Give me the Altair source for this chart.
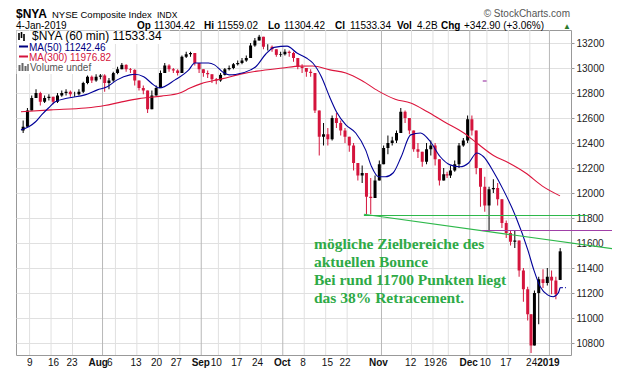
import altair as alt
import pandas as pd

# ---------------- data (daily OHLC) ----------------
closes = [12530, 12660, 12760, 12800, 12730, 12760, 12770, 12730, 12780, 12800,
          12810, 12790, 12790, 12810, 12880, 12930, 12900, 12930, 12940, 12880,
          12900, 12960, 12990, 13025, 12990, 12985, 12900, 12840, 12820, 12670,
          12780, 12840, 12960, 13020, 12990, 12980, 12960, 13090, 13110, 13120,
          13040, 12990, 12960, 12950, 12910, 12900, 12945, 12990, 13000, 13030,
          13040, 13060, 13080, 13180, 13220, 13250, 13170, 13170, 13150, 13105,
          13110, 13130, 13120, 13080, 13010, 13000, 12970, 12960, 12660, 12450,
          12470, 12430, 12600, 12560, 12500, 12450, 12380, 12240, 12140, 12160,
          11970, 11960, 12100, 12230, 12360, 12400, 12420, 12480, 12650, 12600,
          12500, 12350, 12330, 12250, 12350, 12380, 12270, 12100, 12150, 12140,
          12180, 12230, 12380, 12420, 12590, 12500, 12200, 12050, 11900, 12030,
          12040, 11950, 11760, 11680, 11610, 11620, 11380, 11230, 11030, 10780,
          11200, 11310, 11280, 11330, 11300, 11190.44, 11533.34]
highs = [12580, 12680, 12780, 12830, 12810, 12780, 12790, 12770, 12800, 12820,
         12830, 12820, 12810, 12830, 12890, 12940, 12940, 12950, 12960, 12950,
         12920, 12970, 13010, 13040, 13030, 13000, 12990, 12880, 12860, 12800,
         12820, 12860, 12980, 13040, 13030, 13000, 12990, 13100, 13130, 13130,
         13110, 13040, 12990, 12980, 12950, 12920, 12960, 13000, 13020, 13040,
         13060, 13080, 13100, 13200, 13240, 13265, 13250, 13190, 13180, 13140,
         13130, 13150, 13140, 13130, 13060, 13030, 13000, 12990, 12860, 12660,
         12560, 12520, 12620, 12640, 12580, 12520, 12450, 12400, 12240, 12220,
         12100, 12120, 12140, 12260, 12380, 12460, 12450, 12500, 12680, 12660,
         12590, 12480, 12400, 12330, 12400, 12420, 12400, 12270, 12200, 12170,
         12220, 12260, 12400, 12440, 12620, 12620, 12490, 12130, 12130, 12050,
         12110, 12080, 11950, 11780, 11700, 11700, 11620, 11400, 11250, 11000,
         11220, 11330, 11390, 11400, 11380, 11330, 11559.02]
lows = [12480, 12540, 12700, 12760, 12700, 12720, 12740, 12710, 12720, 12770,
        12780, 12770, 12770, 12780, 12800, 12870, 12880, 12890, 12910, 12810,
        12830, 12890, 12950, 12990, 12970, 12960, 12860, 12820, 12790, 12640,
        12700, 12790, 12840, 12960, 12970, 12960, 12940, 12980, 13080, 13090,
        13020, 12960, 12930, 12920, 12880, 12870, 12890, 12940, 12980, 12990,
        13020, 13030, 13050, 13080, 13170, 13220, 13150, 13140, 13130, 13090,
        13090, 13100, 13090, 13050, 12990, 12960, 12930, 12930, 12640, 12300,
        12380, 12380, 12420, 12520, 12460, 12400, 12330, 12180, 12100, 12080,
        11830, 11830, 11960, 12120, 12230, 12310, 12380, 12400, 12480, 12560,
        12470, 12330, 12280, 12210, 12230, 12300, 12220, 12060, 12100, 12120,
        12120, 12170, 12200, 12370, 12400, 12460, 12150, 11890, 11850, 11690,
        12000, 11900, 11720, 11640, 11580, 11560, 11330, 11130, 10980, 10720,
        10790, 10950, 11240, 11260, 11190, 11150, 11304.42]
first_open = 12500
last_open = 11304.42

# moving averages: (trading-day position, value)
ma50 = [(0, 12505), (1.8, 12530), (3.4, 12570), (4.8, 12625), (6.4, 12680), (8, 12730),
        (11, 12760), (14.9, 12785), (17.8, 12825), (20.1, 12850), (22.4, 12905),
        (25.4, 12945), (26.5, 12950), (28.6, 12930), (30.9, 12865), (32.3, 12840),
        (35.9, 12905), (39.1, 12985), (40.5, 13040), (43.7, 13040), (45.1, 13025),
        (47.1, 12965), (48.5, 12945), (50, 12948), (53.5, 12985), (54.7, 13010),
        (57, 13110), (59, 13165), (62, 13175), (64.3, 13120), (66.5, 13080), (68, 13040),
        (70, 12930), (71.9, 12770), (73.5, 12650), (75.7, 12545), (78, 12480),
        (80.3, 12345), (81.7, 12210), (83.3, 12130), (84.9, 12130), (86.7, 12160),
        (88.6, 12290), (90.8, 12465), (93.1, 12480), (95.4, 12410), (97.7, 12290),
        (100, 12225), (102.3, 12210), (104.3, 12240), (106.2, 12320), (107.8, 12290),
        (110.1, 12170), (112.4, 12025), (115.3, 11810), (118.1, 11545), (119.5, 11385),
        (121, 11250), (122.7, 11185), (124, 11170), (125.2, 11200), (125.6, 11242)]
ma300 = [(0, 12650), (7, 12665), (15, 12680), (19.5, 12700), (23, 12725), (27.5, 12755),
         (32.7, 12775), (37, 12800), (39.4, 12840), (42, 12875), (47, 12915),
         (51.7, 12955), (55, 12975), (61, 13000), (65, 13015), (68, 13016), (72, 12985),
         (75.7, 12960), (79.4, 12900), (83.3, 12815), (87.2, 12750), (90.8, 12720),
         (94.7, 12650), (98.6, 12570), (103.2, 12480), (106.2, 12400), (110.1, 12300),
         (113.7, 12240), (117.6, 12160), (121.5, 12055), (125.6, 11977)]

# drawn annotation lines: (x from, x to, value from, value to)
green_lines = [(79.9, 132.1, 11820, 11820),
               (79.9, 138.2, 11830, 11552)]
purple_lines = [(107.3, 138.2, 11700, 11700),
                (107.6, 108.5, 12896, 12896)]

annot_text = ["mögliche Zielbereiche des", "aktuellen Bounce",
              "Bei rund 11700 Punkten liegt", "das 38% Retracement."]

x_labels = [("9", 2.06, 0), ("16", 7.6, 0), ("23", 11.9, 0), ("Aug", 18.0, 1), ("6", 20.7, 0),
            ("13", 26.8, 0), ("20", 31.6, 0), ("27", 36.2, 0), ("Sep", 41.9, 1), ("10", 45.5, 0),
            ("17", 50.3, 0), ("24", 55.1, 0), ("Oct", 60.9, 1), ("8", 65.7, 0), ("15", 71.4, 0),
            ("22", 75.5, 0), ("Nov", 83.3, 1), ("12", 90.8, 0), ("19", 95.2, 0), ("26", 98.0, 0),
            ("Dec", 104.3, 1), ("10", 108.2, 0), ("17", 113, 0), ("24", 119.0, 0), ("2019", 122.9, 1)]

grid_dates = [("2018-07-09", "w"), ("2018-07-16", "w"), ("2018-07-23", "w"), ("2018-08-01", "m"),
              ("2018-08-06", "w"), ("2018-08-13", "w"), ("2018-08-20", "w"), ("2018-08-27", "w"),
              ("2018-09-04", "m"), ("2018-09-10", "w"), ("2018-09-17", "w"), ("2018-09-24", "w"),
              ("2018-10-01", "m"), ("2018-10-08", "w"), ("2018-10-15", "w"), ("2018-10-22", "w"),
              ("2018-11-01", "m"), ("2018-11-12", "w"), ("2018-11-19", "w"), ("2018-11-26", "w"),
              ("2018-12-03", "m"), ("2018-12-10", "w"), ("2018-12-17", "w"), ("2018-12-24", "w"),
              ("2019-01-02", "m")]

y_ticks = list(range(10800, 13201, 200))

# ---------------- trading calendar ----------------
sess = pd.bdate_range("2018-07-05", "2019-01-04")
closed = pd.to_datetime(["2018-09-03", "2018-11-22", "2018-12-05", "2018-12-25", "2019-01-01"])
sess = sess[~sess.isin(closed)]
half = set(pd.to_datetime(["2018-11-23", "2018-12-24"]))
widths = [4 / 7 if d in half else 1.0 for d in sess]
starts, acc = [], 0.0
for wd in widths:
    starts.append(acc)
    acc += wd
centers = [s + wd / 2 for s, wd in zip(starts, widths)]
start_of = {d.strftime("%Y-%m-%d"): s for d, s in zip(sess, starts)}

opens = [first_open] + closes[:-1]
opens[-1] = last_open
cd = pd.DataFrame({"d": centers, "o": opens, "h": highs, "l": lows, "c": closes})
cd["h"] = cd[["h", "o", "c"]].max(axis=1)
cd["l"] = cd[["l", "o", "c"]].min(axis=1)
up = cd[cd["c"] >= cd["o"]]
down = cd[cd["c"] < cd["o"]]

ma50_df = pd.DataFrame(ma50, columns=["d", "v"])
ma300_df = pd.DataFrame(ma300, columns=["d", "v"])
gl_df = pd.DataFrame(green_lines, columns=["d", "d2", "v", "v2"])
pl_df = pd.DataFrame(purple_lines, columns=["d", "d2", "v", "v2"])
xl_df = pd.DataFrame(x_labels, columns=["t", "d", "bold"])
gr_df = pd.DataFrame([(start_of[g], k) for g, k in grid_dates], columns=["d", "kind"])

# ---------------- scales / axes ----------------
W, H = 555, 325
xs = alt.Scale(domain=[0, 127], nice=False, zero=False)
ys = alt.Scale(domain=[10704, 13304], nice=False, zero=False)
yax = alt.Axis(orient="right", values=y_ticks, format="d", labelFont="Liberation Sans",
               labelFontSize=10, labelColor="#222222", tickSize=3, tickColor="#999999",
               labelPadding=2, domain=False, grid=True, gridColor="#e0e0e0", title=None)


def X(f):
    return alt.X(f, type="quantitative", scale=xs, axis=None)


def Y(f):
    return alt.Y(f, type="quantitative", scale=ys, axis=yax)


one = alt.InlineData(values=[{"a": 1}])
FONT = "Liberation Sans"


def txt(s, x, y, size=10, weight="normal", color="#000000", font=FONT, align="left"):
    return alt.Chart(one).mark_text(text=s, align=align, baseline="alphabetic", fontSize=size,
                                    fontWeight=weight, color=color, font=font).encode(
        x=alt.value(x), y=alt.value(y))


def box(x1, x2, y1, y2, color="white"):
    return alt.Chart(one).mark_rect(color=color).encode(
        x=alt.value(x1), x2=alt.value(x2), y=alt.value(y1), y2=alt.value(y2))


def seg(x1, x2, y1, y2, color, w=1.0):
    return alt.Chart(one).mark_rule(color=color, strokeWidth=w).encode(
        x=alt.value(x1), x2=alt.value(x2), y=alt.value(y1), y2=alt.value(y2))


# ---------------- layers ----------------
grid_w = alt.Chart(gr_df).transform_filter("datum.kind == 'w'").mark_rule(
    strokeWidth=1, color="#e0e0e0").encode(x=X("d"))
grid_m = alt.Chart(gr_df).transform_filter("datum.kind == 'm'").mark_rule(
    strokeWidth=1, color="#b8b8b8").encode(x=X("d"))

ycarrier = alt.Chart(ma300_df).mark_line(opacity=0).encode(x=X("d"), y=Y("v"))

UPC, DNC = "#000000", "#d4143c"
wick_up = alt.Chart(up).mark_rule(strokeWidth=1, color=UPC).encode(x=X("d"), y=Y("l"), y2="h")
wick_dn = alt.Chart(down).mark_rule(strokeWidth=1, color=DNC).encode(x=X("d"), y=Y("l"), y2="h")
body_up = alt.Chart(up).mark_bar(size=3, color=UPC).encode(x=X("d"), y=Y("o"), y2="c")
body_dn = alt.Chart(down).mark_bar(size=3, color=DNC).encode(x=X("d"), y=Y("o"), y2="c")

l300 = alt.Chart(ma300_df).mark_line(color="#dc143c", strokeWidth=1.1,
                                     interpolate="monotone").encode(x=X("d"), y=Y("v"))
l50 = alt.Chart(ma50_df).mark_line(color="#000099", strokeWidth=1.1,
                                   interpolate="monotone").encode(x=X("d"), y=Y("v"))

glines = alt.Chart(gl_df).mark_rule(clip=False, strokeWidth=1.2, color="#2db84a").encode(
    x=X("d"), x2="d2", y=Y("v"), y2="v2")
plines = alt.Chart(pl_df).mark_rule(clip=False, strokeWidth=1.2, color="#a040a8").encode(
    x=X("d"), x2="d2", y=Y("v"), y2="v2")

last50 = alt.Chart(pd.DataFrame({"d": [125.6], "d2": [127.0], "v": [11242.46]})).mark_rule(
    color="#000099", strokeDash=[3, 2], strokeWidth=1).encode(x=X("d"), x2="d2", y=Y("v"))

note = alt.Chart(one).mark_text(text=annot_text, align="left", baseline="alphabetic",
                                font="Liberation Serif", fontWeight="bold", fontSize=15.5,
                                lineHeight=18, color="#2eaa46").encode(
    x=alt.value(298), y=alt.value(219))

xl_norm = alt.Chart(xl_df).transform_filter("datum.bold == 0").mark_text(
    font=FONT, fontSize=10, color="#111111", baseline="alphabetic", clip=False).encode(
    x=X("d"), y=alt.value(H + 11), text="t:N")
xl_bold = alt.Chart(xl_df).transform_filter("datum.bold == 1").mark_text(
    font=FONT, fontSize=10, fontWeight="bold", color="#111111", baseline="alphabetic",
    clip=False).encode(x=X("d"), y=alt.value(H + 11), text="t:N")

# legend inside plot
legend = [
    box(0.5, 154, 0.5, 14), box(0.5, 96, 14, 44),
    seg(3, 3, 3, 10, "#000000", 1.6), seg(5.5, 5.5, 2, 8, "#000000", 1.6),
    seg(8, 8, 4, 11, "#000000", 1.6),
    txt("$NYA (60 min) 11533.34", 16, 10, size=12),
    seg(3, 12, 16.5, 16.5, "#000080", 2),
    txt("MA(50) 11242.46", 13, 20.5, size=10, color="#000080"),
    seg(3, 12, 26.5, 26.5, "#d4143c", 2),
    txt("MA(300) 11976.82", 13, 30.5, size=10, color="#d4143c"),
    seg(3.5, 3.5, 35, 41, "#666666", 2), seg(6.5, 6.5, 33, 41, "#666666", 2),
    seg(9.5, 9.5, 36, 41, "#666666", 2), seg(12, 12, 34, 41, "#666666", 1.5),
    txt("Volume undef", 14, 41, size=10, color="#555555"),
]

# header above the plot
HS = 10
R1, R2 = -12, -1.5
header = [
    txt("$NYA", 0, R1, size=12, weight="bold"),
    txt("NYSE Composite Index", 36, R1, size=9.5),
    txt("INDX", 141, R1, size=8.5),
    txt("© StockCharts.com", 554, -13.5, size=10, color="#555555", align="right"),
    txt("4-Jan-2019", 0, R2, size=10),
    txt("Op", 121, R2, size=HS, weight="bold"), txt("11304.42", 138, R2, size=HS),
    txt("Hi", 188, R2, size=HS, weight="bold"), txt("11559.02", 201, R2, size=HS),
    txt("Lo", 252, R2, size=HS, weight="bold"), txt("11304.42", 268, R2, size=HS),
    txt("Cl", 319, R2, size=HS, weight="bold"), txt("11533.34", 334, R2, size=HS),
    txt("Vol", 381, R2, size=HS, weight="bold"), txt("4.2B", 401, R2, size=HS),
    txt("Chg", 425, R2, size=HS, weight="bold"), txt("+342.90 (+3.06%)", 448, R2, size=HS),
    txt("▲", 547, R2, size=8, color="#2a7a2a"),
]

chart = alt.layer(
    grid_w, grid_m, ycarrier, wick_up, wick_dn, body_up, body_dn, l300, l50,
    glines, plines, last50, note, xl_norm, xl_bold, *legend, *header
).properties(
    width=W, height=H,
    autosize=alt.AutoSizeParams(type="none"),
    padding={"left": 8, "top": 22, "right": 41, "bottom": 13},
    background="white",
).configure_view(stroke="#999999", strokeWidth=1)

chart.save("out.html", embed_options={"renderer": "svg", "actions": False})
